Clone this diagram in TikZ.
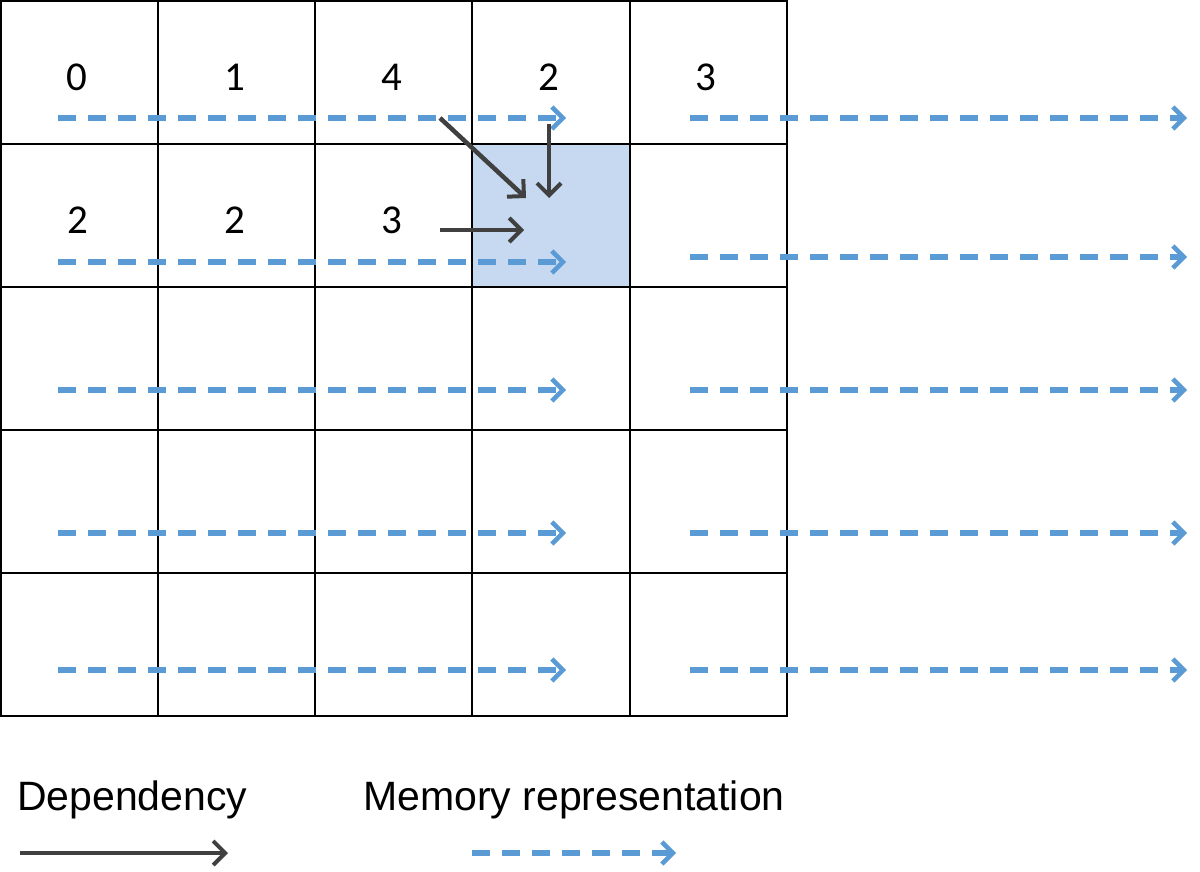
\documentclass[tikz,border=0pt]{standalone}
\usepackage{fontspec}
\setmainfont{Liberation Sans}
\newfontfamily\digitfont{Carlito}
\usetikzlibrary{arrows.meta}
\definecolor{memblue}{HTML}{5B9BD5}
\definecolor{depgray}{HTML}{404040}
\definecolor{hlblue}{HTML}{C6D9F1}
\begin{document}
\begin{tikzpicture}[x=1pt,y=-1pt,
  cell/.style={draw=black,line width=1.8pt,minimum width=157pt,minimum height=143pt,inner sep=0pt,anchor=north west},
  digit/.style={font=\digitfont\fontsize{41}{41}\selectfont,inner sep=0pt},
  legend/.style={font=\fontsize{41}{41}\selectfont,inner sep=0pt,anchor=west},
  memarrow/.style={draw=memblue,line width=5.5pt,dash pattern=on 18pt off 12pt,-{Straight Barb[length=11pt,width=22pt,line width=4.5pt]}},
  deparrow/.style={draw=depgray,line width=4.5pt,-{Straight Barb[length=12pt,width=24pt,line width=4pt]}}]
\useasboundingbox (0,0) rectangle (1200,872);
% highlighted cell
\fill[hlblue] (472,143) rectangle (629,286);
% grid
\foreach \r in {0,...,4}{
  \foreach \c in {0,...,4}{
    \node[cell] (c\r\c) at ({157.2*\c},{143*\r}) {};
  }
}
% digits
\node[digit] (d00) at (77,77) {0};
\node[digit] (d01) at (235,77) {1};
\node[digit] (d02) at (392,77) {4};
\node[digit] (d03) at (549,77) {2};
\node[digit] (d04) at (706,77) {3};
\node[digit] (d10) at (78,220) {2};
\node[digit] (d11) at (235,220) {2};
\node[digit] (d12) at (392,220) {3};
% memory arrows
\foreach \y/\yy/\n in {118/118/0,262/257/1,390/390/2,533/533/3,670/670/4}{
  \coordinate (ma\n) at (58,\y);
  \coordinate (mb\n) at (566,\y);
  \coordinate (mc\n) at (690,\yy);
  \coordinate (md\n) at (1187,\yy);
  \draw[memarrow] (ma\n) -- (mb\n);
  \draw[memarrow] (mc\n) -- (md\n);
}
% dependency arrows
\coordinate (dgA) at (440,118);
\coordinate (dgB) at (526,198);
\coordinate (dvA) at (549,124);
\coordinate (dvB) at (549,198);
\coordinate (dhA) at (440,230);
\coordinate (dhB) at (524,230);
\draw[deparrow] (dgA) -- (dgB);
\draw[deparrow] (dvA) -- (dvB);
\draw[deparrow] (dhA) -- (dhB);
% legend
\node[legend] (ldep) at (17,800) {Dependency};
\node[legend] (lmem) at (363,800) {Memory representation};
\coordinate (lsA) at (20,853);
\coordinate (lsB) at (228,853);
\coordinate (lmA) at (472,853);
\coordinate (lmB) at (676,853);
\draw[deparrow] (lsA) -- (lsB);
\draw[memarrow] (lmA) -- (lmB);
\end{tikzpicture}
\end{document}
